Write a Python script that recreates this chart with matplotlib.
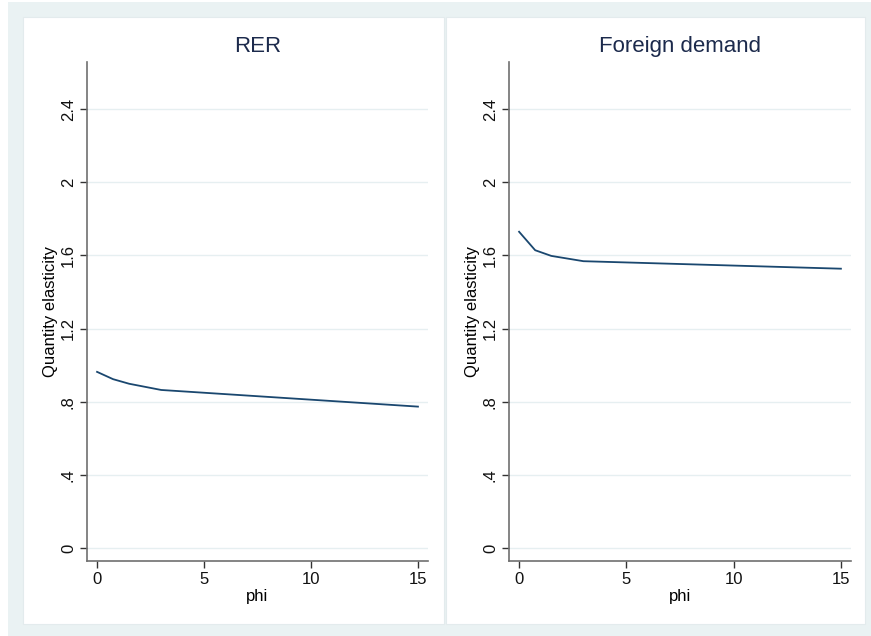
import matplotlib.pyplot as plt
from matplotlib.patches import Rectangle

# elasticity of quantity by phi, one panel per shock
phi = [0, 0.75, 1.5, 3, 15]
rer = [0.963, 0.923, 0.898, 0.864, 0.773]
foreign = [1.729, 1.628, 1.597, 1.568, 1.527]
titles = ["RER", "Foreign demand"]
yticks = [0, 0.4, 0.8, 1.2, 1.6, 2.0, 2.4]
ytick_labels = ["0", ".4", ".8", "1.2", "1.6", "2", "2.4"]
xticks = [0, 5, 10, 15]

plt.rcParams['font.family'] = ['Liberation Sans', 'DejaVu Sans']

bg = '#eaf2f3'
line_col = '#1a476f'
text_col = '#1c2a4c'

fig = plt.figure(figsize=(8.71, 6.36), dpi=100, facecolor='white')
W, H = 871.0, 636.0


def box(x0, y0, x1, y1, **kw):
    # rectangle in pixel coords (y from top)
    fig.patches.append(Rectangle((x0 / W, 1 - y1 / H), (x1 - x0) / W, (y1 - y0) / H,
                                 transform=fig.transFigure, **kw))


# outer graph region, then the two white plot regions
box(8, 2, 871, 636, facecolor=bg, edgecolor='none', zorder=-10)
box(23, 17, 444, 624, facecolor='white', edgecolor='#e3ebed', linewidth=0.8, zorder=-5)
box(446, 17, 865, 624, facecolor='white', edgecolor='#e3ebed', linewidth=0.8, zorder=-5)

panels = [(87, 428, 0, rer), (509, 851, 1, foreign)]
for left, right, i, vals in panels:
    ax = fig.add_axes([left / W, 1 - 561 / H, (right - left) / W, (561 - 62) / H])
    ax.set_zorder(2)
    ax.patch.set_alpha(0)
    ax.plot(phi, vals, color=line_col, linewidth=1.3)
    ax.set_xlim(-0.47, 15.47)
    ax.set_ylim(-0.071, 2.657)
    ax.set_yticks(yticks)
    ax.set_yticklabels(ytick_labels, rotation=90, va='center')
    ax.set_xticks(xticks)
    ax.grid(axis='y', color='#e6eff1', linewidth=1.0)
    ax.set_axisbelow(True)
    for s in ['top', 'right']:
        ax.spines[s].set_visible(False)
    for s in ['left', 'bottom']:
        ax.spines[s].set_color('#707070')
        ax.spines[s].set_linewidth(1.2)
    ax.tick_params(direction='out', length=5, width=1, color='#333333',
                   labelsize=12, labelcolor='#111111', pad=3)
    ax.set_xlabel("phi", fontsize=12, labelpad=1)
    ax.set_ylabel("Quantity elasticity", fontsize=12, labelpad=2)
    ax.set_title(titles[i], fontsize=16, color=text_col, pad=7)

fig.savefig("out.png", dpi=100, facecolor='white')
